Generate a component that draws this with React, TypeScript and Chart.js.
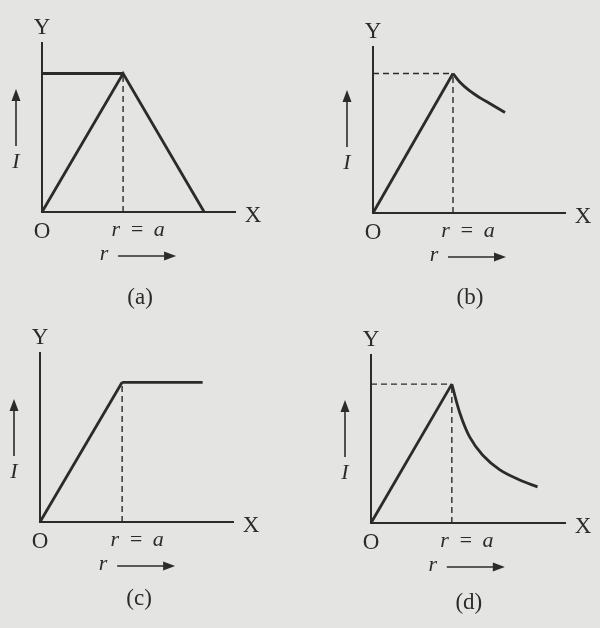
import React, { useEffect, useRef } from "react";
import { Chart, registerables } from "chart.js";
Chart.register(...registerables);

// ---- data (x in units of a, y in units of peak I) ----
const captions = ["(a)", "(b)", "(c)", "(d)"];
const yAxisName = "Y";
const xAxisName = "X";
const originName = "O";
const markLabel = "r = a";
const xVarLabel = "r";
const yVarLabel = "I";

// (a)
const aLineX = [0, 1, 2];
const aLineY = [0, 1, 0];
const aTopX = [0, 1];
const aTopY = [1, 1];
// (b)
const bRiseX = [0, 1];
const bRiseY = [0, 1];
const bFallX = [1, 1.09, 1.21, 1.34, 1.46, 1.65];
const bFallY = [1, 0.935, 0.875, 0.825, 0.785, 0.72];
// (c)
const cRiseX = [0, 1];
const cRiseY = [0, 1];
const cFlatX = [1, 1.98];
const cFlatY = [1, 1];
// (d)
const dRiseX = [0, 1];
const dRiseY = [0, 1];
const dFallX = [1, 1.1, 1.22, 1.38, 1.59, 1.84, 2.06];
const dFallY = [1, 0.79, 0.62, 0.49, 0.385, 0.31, 0.26];
// dashed guides
const guideVX = [1, 1];
const guideVY = [0, 1];
const guideHX = [0, 1];
const guideHY = [1, 1];

const INK = "#2b2b2b";
const BG = "#e4e4e2";
const FONT = "'Liberation Serif', 'DejaVu Serif', serif";

const pts = (xs: number[], ys: number[]) => xs.map((x, i) => ({ x, y: ys[i] }));

const solid = (xs: number[], ys: number[], smooth = false) => ({
  data: pts(xs, ys),
  borderColor: INK,
  borderWidth: 2.8,
  pointRadius: 0,
  fill: false,
  clip: false as any,
  tension: smooth ? 0.35 : 0,
});
const dashed = (xs: number[], ys: number[]) => ({
  data: pts(xs, ys),
  borderColor: INK,
  borderWidth: 1.4,
  borderDash: [6, 4],
  pointRadius: 0,
  fill: false,
  clip: false as any,
});

type Panel = {
  left: number;
  top: number;
  pad: { left: number; top: number; right: number; bottom: number };
  xMax: number;
  yMax: number;
  caption: string;
  capOffset: number;
  datasets: any[];
};

const panels: Panel[] = [
  {
    left: 0, top: 0,
    pad: { left: 42, top: 43, right: 65, bottom: 102 },
    xMax: 2.38, yMax: 1.22, caption: captions[0], capOffset: 86,
    datasets: [dashed(guideVX, guideVY), solid(aTopX, aTopY), solid(aLineX, aLineY)],
  },
  {
    left: 300, top: 0,
    pad: { left: 73, top: 47, right: 35, bottom: 101 },
    xMax: 2.4, yMax: 1.19, caption: captions[1], capOffset: 85,
    datasets: [dashed(guideVX, guideVY), dashed(guideHX, guideHY), solid(bRiseX, bRiseY), solid(bFallX, bFallY, true)],
  },
  {
    left: 0, top: 314,
    pad: { left: 40, top: 39, right: 67, bottom: 106 },
    xMax: 2.35, yMax: 1.21, caption: captions[2], capOffset: 77,
    datasets: [dashed(guideVX, guideVY), solid(cRiseX, cRiseY), solid(cFlatX, cFlatY)],
  },
  {
    left: 300, top: 314,
    pad: { left: 71, top: 41, right: 35, bottom: 105 },
    xMax: 2.4, yMax: 1.21, caption: captions[3], capOffset: 80,
    datasets: [dashed(guideVX, guideVY), dashed(guideHX, guideHY), solid(dRiseX, dRiseY), solid(dFallX, dFallY, true)],
  },
];

function arrow(ctx: CanvasRenderingContext2D, x1: number, y1: number, x2: number, y2: number) {
  const ang = Math.atan2(y2 - y1, x2 - x1);
  const hl = 12, hw = 4.5;
  ctx.beginPath();
  ctx.moveTo(x1, y1);
  ctx.lineTo(x2 - Math.cos(ang) * hl * 0.8, y2 - Math.sin(ang) * hl * 0.8);
  ctx.lineWidth = 1.6;
  ctx.strokeStyle = INK;
  ctx.stroke();
  ctx.beginPath();
  ctx.moveTo(x2, y2);
  ctx.lineTo(x2 - Math.cos(ang) * hl - Math.sin(ang) * hw, y2 - Math.sin(ang) * hl + Math.cos(ang) * hw);
  ctx.lineTo(x2 - Math.cos(ang) * hl + Math.sin(ang) * hw, y2 - Math.sin(ang) * hl - Math.cos(ang) * hw);
  ctx.closePath();
  ctx.fillStyle = INK;
  ctx.fill();
}

const makeLabels = (caption: string, capOffset: number) => ({
  id: "figLabels",
  afterDraw(chart: any) {
    const ctx: CanvasRenderingContext2D = chart.ctx;
    const { left, right, top, bottom } = chart.chartArea;
    const xa = chart.scales.x.getPixelForValue(1);
    ctx.save();
    ctx.fillStyle = INK;
    ctx.textAlign = "center";
    ctx.textBaseline = "middle";
    ctx.font = `23px ${FONT}`;
    ctx.fillText(yAxisName, left, top - 15);
    ctx.fillText(xAxisName, right + 18, bottom + 4);
    ctx.fillText(originName, left, bottom + 20);
    ctx.font = `italic 22px ${FONT}`;
    (ctx as any).letterSpacing = "2px";
    ctx.fillText(markLabel, xa + 16, bottom + 18);
    (ctx as any).letterSpacing = "0px";
    ctx.fillText(xVarLabel, xa - 19, bottom + 42);
    arrow(ctx, xa - 5, bottom + 44, xa + 53, bottom + 44);
    ctx.fillText(yVarLabel, left - 26, bottom - 50);
    arrow(ctx, left - 26, bottom - 66, left - 26, bottom - 123);
    ctx.font = `23px ${FONT}`;
    ctx.fillText(caption, xa + 17, bottom + capOffset);
    ctx.restore();
  },
});

function PanelChart({ p }: { p: Panel }) {
  const ref = useRef<HTMLCanvasElement>(null);
  useEffect(() => {
    const chart = new Chart(ref.current!, {
      type: "line",
      data: { datasets: p.datasets },
      options: {
        animation: false,
        responsive: false,
        devicePixelRatio: 1,
        layout: { padding: p.pad },
        plugins: { legend: { display: false }, tooltip: { enabled: false } },
        scales: {
          x: {
            type: "linear", min: 0, max: p.xMax,
            grid: { display: false, drawTicks: false, tickLength: 0 },
            ticks: { display: false },
            border: { display: true, color: INK, width: 2 },
          },
          y: {
            type: "linear", min: 0, max: p.yMax,
            grid: { display: false, drawTicks: false, tickLength: 0 },
            ticks: { display: false },
            border: { display: true, color: INK, width: 2 },
          },
        },
      },
      plugins: [makeLabels(p.caption, p.capOffset)],
    });
    return () => chart.destroy();
  }, [p]);
  return (
    <canvas
      ref={ref}
      width={300}
      height={314}
      style={{ position: "absolute", left: p.left, top: p.top, width: 300, height: 314 }}
    />
  );
}

export default function App() {
  return (
    <div style={{ position: "fixed", left: 0, top: 0, width: 600, height: 628, background: BG, overflow: "hidden" }}>
      {panels.map((p, i) => (
        <PanelChart key={i} p={p} />
      ))}
    </div>
  );
}
